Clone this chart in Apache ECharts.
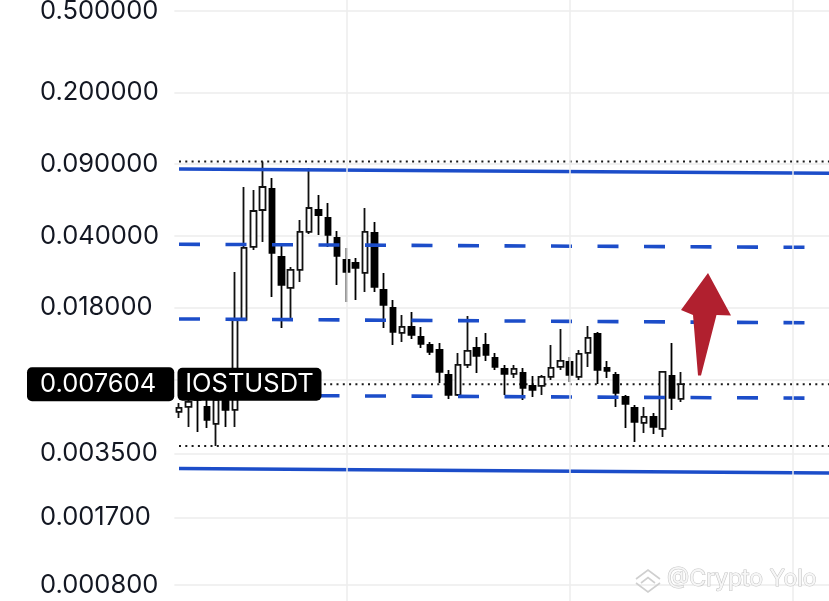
<!DOCTYPE html>
<html><head><meta charset="utf-8">
<script src="https://cdn.jsdelivr.net/npm/echarts@6/dist/echarts.min.js"></script>
<style>html,body{margin:0;padding:0;background:#fff}#c{width:829px;height:601px}</style>
</head><body><div id="c"></div>
<script>
// ---- data ----
const symbolName = 'IOSTUSDT';
const lastPrice = 0.007604;
const opens  = [0.00557,0.005891,0.007128,0.005891,0.004869,0.006372,0.005696,0.015627,0.035428,0.053647,
                0.06789,0.031671,0.022372,0.027375,0.041919,0.053647,0.049044,0.039191,0.030623,0.02961,
                0.026469,0.041452,0.021875,0.017878,0.013508,0.014447,0.012915,0.011806,0.011163,0.008434,
                0.00674,0.009435,0.011415,0.011806,0.010205,0.009021,0.008529,0.008625,0.007455,0.007455,
                0.008247,0.009226,0.009758,0.008247,0.010794,0.013357,0.009123,0.008434,0.00659,0.005825,
                0.004923,0.005266,0.004603,0.00834,0.006444];
const closes = [0.005825,0.006231,0.006372,0.005092,0.006372,0.005696,0.015627,0.035034,0.053049,0.06943,
                0.033125,0.023138,0.027375,0.041919,0.054865,0.050721,0.040532,0.032028,0.026768,0.027996,
                0.041919,0.022625,0.018489,0.01366,0.014447,0.013208,0.011939,0.010915,0.008722,0.00674,
                0.009435,0.011038,0.010436,0.010554,0.009226,0.008529,0.009021,0.00729,0.007128,0.008247,
                0.009123,0.009868,0.008434,0.010673,0.012771,0.00892,0.008821,0.006892,0.006093,0.004979,
                0.005266,0.004708,0.008722,0.006517,0.007604];
const lows   = [0.005207,0.004708,0.004451,0.004655,0.003804,0.004708,0.004708,0.015453,0.034257,0.037472,
                0.020224,0.014286,0.015982,0.023929,0.04099,0.040532,0.035429,0.023138,0.019121,0.019555,
                0.02139,0.02139,0.014286,0.011806,0.01221,0.012628,0.011415,0.010554,0.00771,0.006444,
                0.006665,0.009123,0.008625,0.009868,0.00892,0.00674,0.008155,0.006372,0.00659,0.00674,
                0.007974,0.00892,0.007797,0.007974,0.009226,0.007624,0.008155,0.005891,0.004655,0.003979,
                0.004401,0.004353,0.004209,0.005696,0.006231];
const highs  = [0.006161,0.006444,0.007539,0.006517,0.00674,0.00674,0.026768,0.06943,0.067133,0.0924,
                0.076802,0.037054,0.028311,0.047956,0.085915,0.063474,0.058027,0.042391,0.035034,0.031317,
                0.054865,0.046893,0.026469,0.019555,0.016528,0.017093,0.014447,0.01221,0.012074,0.00892,
                0.010794,0.016344,0.012915,0.013508,0.010794,0.009435,0.009435,0.009123,0.00834,0.008434,
                0.011806,0.014127,0.01032,0.011163,0.01461,0.01366,0.009868,0.008722,0.00674,0.006025,
                0.005891,0.005508,0.008821,0.012074,0.008722];
const categories = Array.from({length: 71}, (_, i) => String(i + 1));
const yTickLabels = [0.5, 0.2, 0.09, 0.04, 0.018, 0.007604, 0.0035, 0.0017, 0.0008];
const yGridValues = [0.5, 0.2, 0.09, 0.04, 0.018, 0.008, 0.0035, 0.0017, 0.0008];
const verticalGridCats = ['19', '43', '67'];
// drawn channel / levels: [value at first bar, value at right edge]
const channelTop    = [0.08496, 0.08096];
const channelBottom = [0.002955, 0.002809];
const levelUpper    = [0.03653, 0.03524];
const levelMid      = [0.015806, 0.015113];
const levelLower    = [0.006735, 0.006492];

// ---- chart ----
const FONT = 'Inter';
const BLUE = '#1c4dc9';
const chart = echarts.init(document.getElementById('c'), null, {renderer: 'canvas'});
const candles = opens.map((o, i) => [o, closes[i], lows[i], highs[i]]);
const first = categories[0], last = categories[categories.length - 1];
function seg(vals) { return [[first, vals[0]], [last, vals[1]]]; }
function trend(name, vals, dashed) {
  return {
    type: 'line', name, data: seg(vals), symbol: 'none', silent: true, z: 4,
    lineStyle: {color: BLUE, width: 3.6, type: dashed ? [21, 25.5] : 'solid'}
  };
}
function dotted(name, v) {
  return {
    type: 'line', name, data: seg([v, v]), symbol: 'none', silent: true, z: 3,
    lineStyle: {color: '#1a1a1a', width: 2, type: [2, 4.3]}
  };
}
const maxHigh = Math.max(...highs), minLow = Math.min(...lows);

chart.setOption({
  animation: false,
  backgroundColor: '#ffffff',
  grid: {left: 174.35, top: -5.3, width: 660.3, height: 615.9, containLabel: false, outerBoundsMode: 'none'},
  xAxis: {
    type: 'category', data: categories, boundaryGap: true,
    axisLine: {show: false}, axisTick: {show: false}, axisLabel: {show: false}, splitLine: {show: false}
  },
  yAxis: {
    type: 'log', logBase: 10, min: 0.0006, max: 0.6,
    axisLine: {show: false},
    axisTick: {show: false, customValues: yGridValues},
    splitLine: {show: true, lineStyle: {color: '#ececec', width: 1.5}},
    axisLabel: {
      customValues: yTickLabels,
      margin: 147.35, align: 'left', verticalAlign: 'middle',
      formatter: v => (Math.abs(v - lastPrice) < 1e-9 ? '{hl|' : '{n|') + Number(v).toFixed(6) + '}',
      rich: {
        n: {fontSize: 25.5, fontFamily: FONT, color: '#131722', lineHeight: 25, padding: [4, 18, 4, 13]},
        hl: {fontSize: 25.5, fontFamily: FONT, color: '#ffffff', lineHeight: 25, padding: [4, 18, 4, 13],
             backgroundColor: '#000000', borderRadius: 5}
      }
    }
  },
  series: [
    {
      type: 'line', name: 'vgrid', data: [[first, lastPrice]], symbol: 'none', z: 1, silent: true,
      lineStyle: {width: 0},
      markLine: {
        silent: true, symbol: ['none', 'none'], label: {show: false},
        lineStyle: {color: '#ececec', width: 1.5, type: 'solid'},
        data: verticalGridCats.map(c => ({xAxis: c}))
      }
    },
    {
      type: 'candlestick', name: symbolName, data: candles, z: 3, barWidth: 6,
      itemStyle: {color: '#ffffff', color0: '#000000', borderColor: '#111111', borderColor0: '#000000', borderWidth: 1.8}
    },
    dotted('highLine', maxHigh),
    dotted('priceLine', lastPrice),
    dotted('lowLine', minLow),
    trend('channelTop', channelTop, false),
    trend('channelBottom', channelBottom, false),
    trend('levelUpper', levelUpper, true),
    trend('levelMid', levelMid, true),
    trend('levelLower', levelLower, true)
  ]
});

// annotations positioned from the chart's own scales
const py = chart.convertToPixel({yAxisIndex: 0}, lastPrice);
const px = chart.convertToPixel({xAxisIndex: 0}, first) - 1.5;
chart.setOption({
  graphic: [
    {type: 'rect', z: 100, shape: {x: px, y: py - 16.5, width: 144, height: 33, r: 5}, style: {fill: '#000'}},
    {type: 'text', z: 101, x: px + 72, y: py, style: {text: symbolName, fill: '#fff', font: '25.5px ' + FONT, align: 'center', verticalAlign: 'middle'}},
    {type: 'polygon', z: 90, shape: {points: [[708, 273], [731, 315.5], [716.5, 315], [701, 375.5], [698, 375.5], [693, 315], [681, 310]]},
     style: {fill: '#b1202f'}},
    {type: 'polyline', z: 90, shape: {points: [[636, 579], [648, 570], [660, 579]]}, style: {stroke: '#cfcfcf', lineWidth: 1.6, fill: null}},
    {type: 'polyline', z: 90, shape: {points: [[641, 583], [648, 577.5], [655, 583]]}, style: {stroke: '#cfcfcf', lineWidth: 1.6, fill: null}},
    {type: 'polyline', z: 90, shape: {points: [[636, 583], [648, 592], [660, 583]]}, style: {stroke: '#cfcfcf', lineWidth: 1.6, fill: null}},
    {type: 'text', z: 90, x: 667, y: 579, style: {text: '@Crypto Yolo', font: '23px ' + FONT, fill: '#f6f6f6', stroke: '#c4c4c4', lineWidth: 1.1, verticalAlign: 'middle'}}
  ]
});
</script></body></html>
